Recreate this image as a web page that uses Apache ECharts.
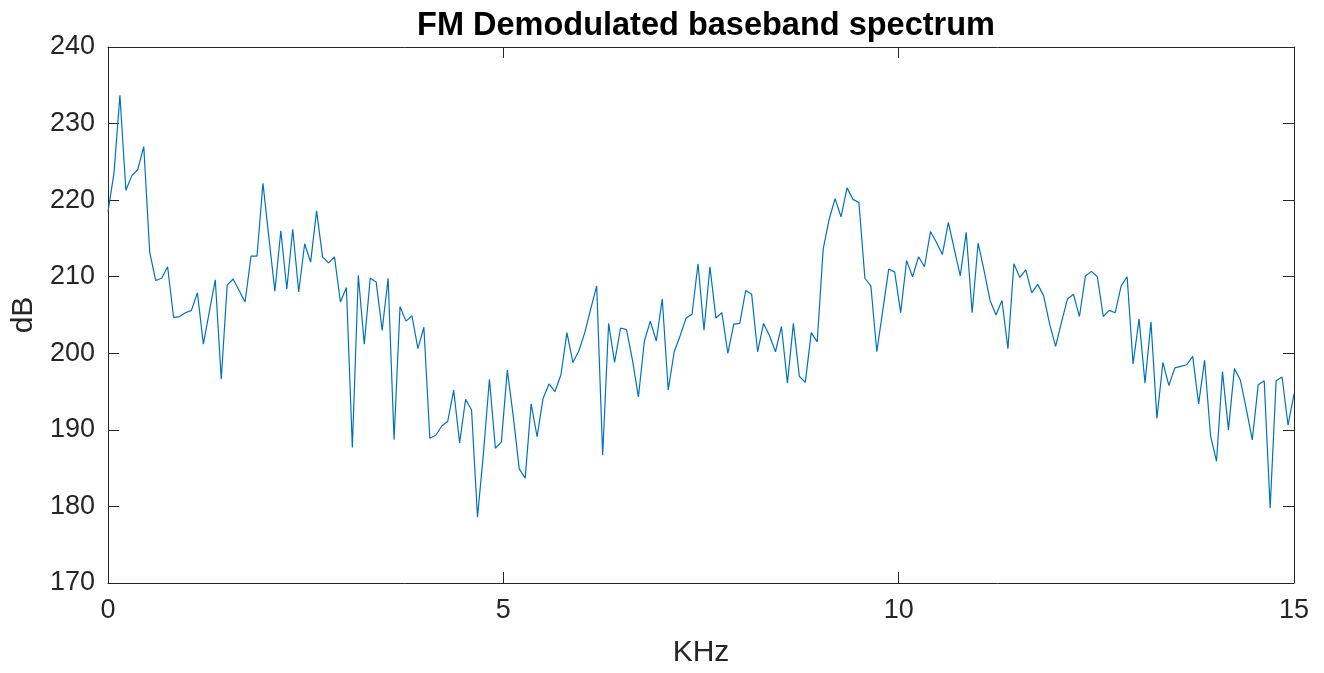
<!DOCTYPE html>
<html>
<head>
<meta charset="utf-8">
<title>FM Demodulated baseband spectrum</title>
<script src="https://cdn.jsdelivr.net/npm/echarts@6/dist/echarts.min.js"></script>
<style>
  html, body { margin: 0; padding: 0; background: #ffffff; }
  #chart { width: 1324px; height: 673px; }
</style>
</head>
<body>
<div id="chart"></div>
<script>
// Baseband spectrum of the FM-demodulated signal (dB), 200 bins spanning 0-15 kHz
const spectrumDb = [
  218.5, 223.5, 233.7, 221.3, 223.2, 224.0, 227.0, 213.2, 209.5, 209.8,
  211.3, 204.7, 204.8, 205.3, 205.6, 207.9, 201.2, 205.4, 209.6, 196.6,
  208.9, 209.7, 208.2, 206.7, 212.7, 212.7, 222.2, 215.1, 208.1, 216.0,
  208.4, 216.2, 208.0, 214.3, 211.9, 218.6, 212.6, 211.8, 212.6, 206.7,
  208.6, 187.7, 210.2, 201.2, 209.8, 209.3, 203.0, 209.8, 188.7, 206.1,
  204.2, 204.9, 200.6, 203.4, 188.9, 189.3, 190.5, 191.1, 195.2, 188.3,
  194.0, 192.6, 178.6, 187.0, 196.6, 187.6, 188.4, 197.8, 191.8, 184.9,
  183.7, 193.4, 189.1, 194.1, 196.0, 195.0, 197.2, 202.7, 198.8, 200.3,
  202.7, 205.8, 208.8, 186.7, 203.9, 198.8, 203.3, 203.1, 199.1, 194.3,
  201.6, 204.2, 201.6, 207.1, 195.2, 200.2, 202.3, 204.6, 205.1, 211.7,
  203.0, 211.3, 204.6, 205.3, 200.0, 203.8, 203.9, 208.2, 207.7, 200.2,
  203.9, 202.3, 200.2, 203.5, 196.1, 203.9, 197.0, 196.2, 202.7, 201.5,
  213.6, 217.5, 220.2, 217.8, 221.6, 220.1, 219.7, 209.8, 208.8, 200.2,
  205.6, 211.0, 210.6, 205.3, 212.1, 210.0, 212.6, 211.3, 215.9, 214.5,
  212.9, 217.1, 213.6, 210.1, 215.8, 205.3, 214.4, 210.8, 206.9, 205.0,
  206.9, 200.6, 211.7, 209.9, 210.9, 207.9, 209.0, 207.5, 203.8, 200.9,
  204.1, 207.1, 207.7, 204.8, 210.1, 210.7, 210.0, 204.8, 205.6, 205.3,
  208.8, 210.0, 198.6, 204.5, 196.1, 204.1, 191.5, 198.8, 195.8, 198.1,
  198.3, 198.5, 199.6, 193.4, 199.1, 189.2, 185.9, 197.6, 190.0, 198.0,
  196.5, 192.7, 188.7, 195.9, 196.4, 179.8, 196.4, 196.9, 190.6, 194.7
];

// Frequency of each bin in kHz (uniform bin spacing over 0-15 kHz)
const freqMaxKhz = 15;
const binWidthKhz = freqMaxKhz / (spectrumDb.length - 1);
const freqKhz = spectrumDb.map((_, i) => i * binWidthKhz);

// Axis ranges and tick spacing
const xTicks = [0, 5, 10, 15];
const yTicks = [170, 180, 190, 200, 210, 220, 230, 240];

const titleText = 'FM Demodulated baseband spectrum';
const xLabel = 'KHz';
const yLabel = 'dB';

const FONT = '"Liberation Sans", Arial, Helvetica, sans-serif';
const AXIS_COLOR = '#262626';
const LINE_COLOR = '#0072BD';

const GRID = { left: 108, right: 30, top: 47, bottom: 83 };

function axisCommon(extra) {
  return Object.assign({
    axisLine: { show: true, onZero: false, lineStyle: { color: AXIS_COLOR, width: 1 } },
    axisTick: { show: true, inside: true, length: 11, lineStyle: { color: AXIS_COLOR, width: 1 } },
    splitLine: { show: false },
    axisLabel: { color: AXIS_COLOR, fontFamily: FONT, fontSize: 27 }
  }, extra);
}

const xMin = xTicks[0], xMax = xTicks[xTicks.length - 1], xStep = xTicks[1] - xTicks[0];
const yMin = yTicks[0], yMax = yTicks[yTicks.length - 1], yStep = yTicks[1] - yTicks[0];

const chart = echarts.init(document.getElementById('chart'), null, { renderer: 'canvas' });

chart.setOption({
  animation: false,
  backgroundColor: '#ffffff',
  title: {
    text: titleText,
    left: GRID.left + (1324 - GRID.left - GRID.right) / 2,
    textAlign: 'center',
    top: 5,
    textStyle: { fontFamily: FONT, fontSize: 32.5, fontWeight: 'bold', color: '#000000' }
  },
  grid: Object.assign({ containLabel: false }, GRID),
  xAxis: [
    axisCommon({
      type: 'value', position: 'bottom', min: xMin, max: xMax, interval: xStep,
      name: xLabel, nameLocation: 'middle', nameGap: 55,
      nameTextStyle: { color: AXIS_COLOR, fontFamily: FONT, fontSize: 30 },
      axisLabel: { color: AXIS_COLOR, fontFamily: FONT, fontSize: 27, margin: 14 }
    }),
    axisCommon({
      type: 'value', position: 'top', min: xMin, max: xMax, interval: xStep,
      axisLabel: { show: false }
    })
  ],
  yAxis: [
    axisCommon({
      type: 'value', position: 'left', min: yMin, max: yMax, interval: yStep,
      name: yLabel, nameLocation: 'middle', nameGap: 57, nameRotate: 90,
      nameTextStyle: { color: AXIS_COLOR, fontFamily: FONT, fontSize: 30 },
      axisLabel: { color: AXIS_COLOR, fontFamily: FONT, fontSize: 27, margin: 13 }
    }),
    axisCommon({
      type: 'value', position: 'right', min: yMin, max: yMax, interval: yStep,
      axisLabel: { show: false }
    })
  ],
  series: [{
    type: 'line',
    xAxisIndex: 0,
    yAxisIndex: 0,
    data: freqKhz.map((f, i) => [f, spectrumDb[i]]),
    showSymbol: false,
    symbol: 'none',
    lineStyle: { color: LINE_COLOR, width: 1.2 },
    clip: true
  }]
});
</script>
</body>
</html>
